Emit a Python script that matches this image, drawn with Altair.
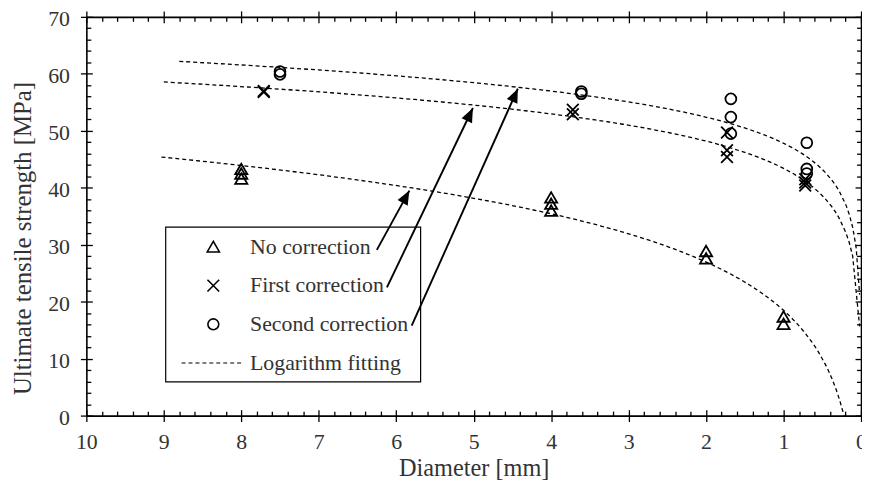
import math
import altair as alt
import pandas as pd

# ---------------- data ----------------
no_corr_d = [8, 8, 8, 4, 4, 4, 2, 2, 1, 1]
no_corr_v = [43.3, 42.5, 41.6, 38.3, 37.2, 36.0, 28.9, 27.6, 17.4, 16.1]

first_d = [7.71, 7.71, 3.72, 3.72, 1.73, 1.73, 1.73, 0.72, 0.72, 0.72]
first_v = [57.0, 56.8, 53.7, 52.9, 49.7, 46.6, 45.4, 41.5, 40.9, 40.4]

second_d = [7.5, 7.5, 3.61, 3.61, 1.68, 1.68, 1.68, 0.70, 0.70, 0.70]
second_v = [60.4, 59.9, 56.9, 56.5, 55.6, 52.4, 49.5, 47.9, 43.3, 42.5]

# fitted-curve x ranges (log fits of each series)
fit_extent_no = [0.1, 9.03]
fit_extent_first = [0.018, 9.0]
fit_extent_second = [0.018, 8.8]

legend_labels = ["No correction", "First correction", "Second correction", "Logarithm fitting"]

# annotation arrows: from legend entry to fitted curve
arrow_tail_d = [6.25, 6.12, 5.80]
arrow_tail_v = [29.1, 22.5, 15.8]
arrow_head_d = [5.83, 5.01, 4.43]
arrow_head_v = [39.5, 54.0, 57.4]

x_major = [0, 1, 2, 3, 4, 5, 6, 7, 8, 9, 10]
y_major = [0, 10, 20, 30, 40, 50, 60, 70]
x_minor = [round(i * 0.2, 1) for i in range(51) if i % 5]
y_minor = [i * 2 for i in range(36) if i % 5]

# ---------------- styling ----------------
FONT = "Liberation Serif"
TXT = "#333333"
W, H = 781, 402
XDOM, YDOM = [0, 10], [0, 70]
DASH = [4, 3]
XSHAPE = "M-1,-1L1,1M1,-1L-1,1"

xs = alt.Scale(domain=XDOM, reverse=True, nice=False, zero=False)
ys = alt.Scale(domain=YDOM, nice=False, zero=False)

pts = pd.DataFrame({
    "d": no_corr_d + first_d + second_d,
    "v": no_corr_v + first_v + second_v,
    "s": ["no"] * len(no_corr_d) + ["first"] * len(first_d) + ["second"] * len(second_d),
})


def axis(orient, values, size, offset=0, domain=False, main=False, title=None, **kw):
    d = dict(orient=orient, values=values, tickSize=size, offset=offset, domain=domain,
             labels=main, grid=False, ticks=True, tickColor="black", tickWidth=1.3,
             domainColor="black", domainWidth=1.6, title=title)
    if main:
        d.update(labelFont=FONT, labelFontSize=22, labelColor=TXT, format="d",
                 labelOverlap=False, labelBound=False, labelFlush=False,
                 titleFont=FONT, titleFontWeight="normal", titleColor=TXT)
    d.update(kw)
    return alt.Axis(**d)


MAJ, MIN = 6, 4.5
ax_pairs = [
    (axis("bottom", x_major, MAJ, domain=True, main=True, title="Diameter [mm]",
          labelPadding=10, titlePadding=4, titleFontSize=24.5),
     axis("left", y_major, MAJ, domain=True, main=True, title="Ultimate tensile strength [MPa]",
          labelPadding=11, titlePadding=12, titleFontSize=25, labelOffset=2, titleY=223)),
    (axis("bottom", x_major, MAJ, offset=-MAJ), axis("left", y_major, MAJ, offset=-MAJ)),
    (axis("bottom", x_minor, MIN, offset=-MIN), axis("left", y_minor, MIN, offset=-MIN)),
    (axis("top", x_major, MAJ, domain=True), axis("right", y_major, MAJ, domain=True)),
    (axis("top", x_major, MAJ, offset=-MAJ), axis("right", y_major, MAJ, offset=-MAJ)),
    (axis("top", x_minor, MIN, offset=-MIN), axis("right", y_minor, MIN, offset=-MIN)),
]

base = alt.Chart(pts)

series = [
    ("no", dict(shape="triangle-up", size=150), fit_extent_no),
    ("first", dict(shape=XSHAPE, size=140), fit_extent_first),
    ("second", dict(shape="circle", size=120), fit_extent_second),
]

# legend box (drawn first so that arrows cross its border)
box = alt.Chart(alt.Data(values=[{}])).mark_rect(
    fill="white", stroke="black", strokeWidth=1.2
).encode(x=alt.value(80), x2=alt.value(337), y=alt.value(212), y2=alt.value(368))

layers = [box]
point_layers, fit_layers = [], []
for i, (key, st, ext) in enumerate(series):
    xa, ya = ax_pairs[i]
    point_layers.append(
        base.transform_filter(alt.datum.s == key)
        .mark_point(filled=False, color="black", strokeWidth=1.8, opacity=1, **st)
        .encode(x=alt.X("d:Q", scale=xs, axis=xa), y=alt.Y("v:Q", scale=ys, axis=ya))
    )
    xa2, ya2 = ax_pairs[i + 3]
    fit_layers.append(
        base.transform_filter(alt.datum.s == key)
        .transform_regression("d", "v", method="log", extent=ext)
        .mark_line(color="black", strokeWidth=1.3, strokeDash=DASH, clip=True)
        .encode(x=alt.X("d:Q", scale=xs, axis=xa2), y=alt.Y("v:Q", scale=ys, axis=ya2))
    )

layers += fit_layers + point_layers

# arrows
px_d = W / (XDOM[1] - XDOM[0])
px_v = H / (YDOM[1] - YDOM[0])
angles = []
for td, tv, hd, hv in zip(arrow_tail_d, arrow_tail_v, arrow_head_d, arrow_head_v):
    dx = -(hd - td) * px_d
    dy = (hv - tv) * px_v
    angles.append(math.degrees(math.atan2(dx, dy)) % 360)
arr = pd.DataFrame({"td": arrow_tail_d, "tv": arrow_tail_v,
                    "hd": arrow_head_d, "hv": arrow_head_v, "ang": angles})
arrow_lines = alt.Chart(arr).mark_rule(color="black", strokeWidth=1.9).encode(
    x=alt.X("td:Q", scale=xs, axis=None), x2="hd:Q",
    y=alt.Y("tv:Q", scale=ys, axis=None), y2="hv:Q")
arrow_heads = alt.Chart(arr).mark_point(
    shape="M0,0L-0.82,2.0L0.82,2.0Z", filled=True, color="black", size=200, opacity=1
).encode(x=alt.X("hd:Q", scale=xs, axis=None), y=alt.Y("hv:Q", scale=ys, axis=None),
         angle=alt.Angle("ang:Q", scale=None))
layers += [arrow_lines, arrow_heads]

# legend contents
LX_SYM, LX_TXT = 128, 165
row_base = [239, 277.7, 316.7, 355.7]
sym_y = [231.7, 271, 310]
one = alt.Data(values=[{}])
for i, lab in enumerate(legend_labels):
    layers.append(alt.Chart(one).mark_text(
        font=FONT, fontSize=22, color=TXT, align="left", baseline="alphabetic"
    ).encode(x=alt.value(LX_TXT), y=alt.value(row_base[i]), text=alt.value(lab)))
for i, (key, st, ext) in enumerate(series):
    layers.append(alt.Chart(one).mark_point(
        filled=False, color="black", strokeWidth=1.6, opacity=1, **st
    ).encode(x=alt.value(LX_SYM), y=alt.value(sym_y[i])))
layers.append(alt.Chart(one).mark_rule(color="black", strokeWidth=1.2, strokeDash=DASH).encode(
    x=alt.value(96), x2=alt.value(158), y=alt.value(349)))

chart = alt.layer(*layers).resolve_axis(x="independent", y="independent").properties(
    width=W, height=H,
    autosize=alt.AutoSizeParams(type="none"),
    padding={"left": 79, "top": 7, "right": 1, "bottom": 63},
).configure_view(stroke=None).configure(background="white")

chart.save("out.html", embed_options={"renderer": "svg", "actions": False})
